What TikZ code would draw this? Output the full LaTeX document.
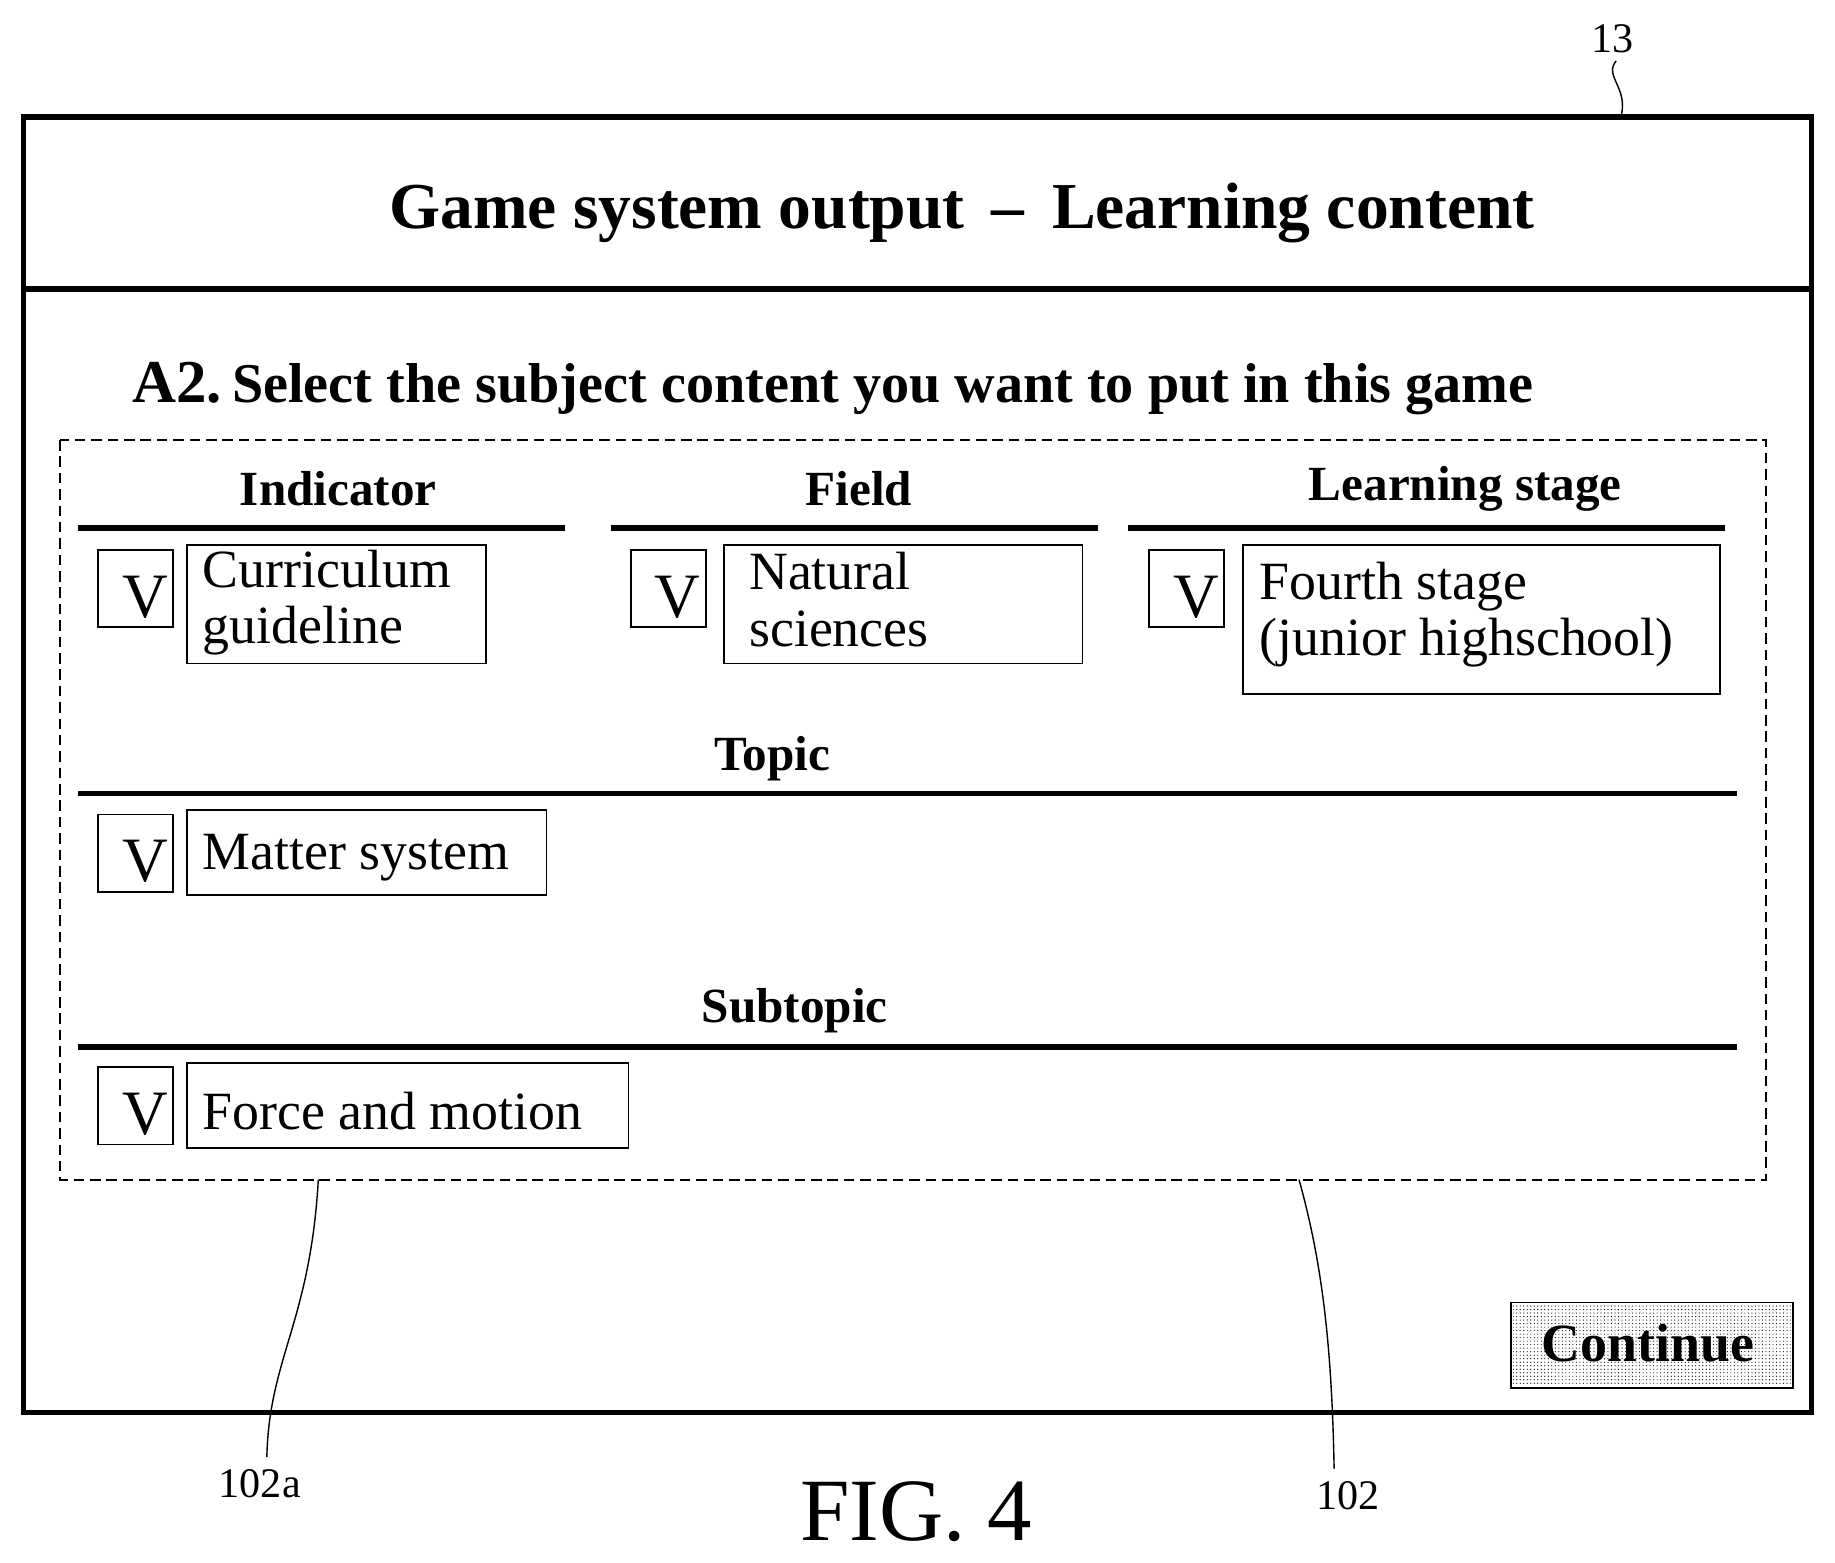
\documentclass[tikz,border=0pt]{standalone}
\usepackage{fontspec}
\setmainfont{Liberation Serif}
\usetikzlibrary{patterns}
\begin{document}
\begin{tikzpicture}[x=1pt,y=-1pt,
  hdr/.style={font=\fontsize{42}{44}\selectfont\bfseries},
  hline/.style={line width=5pt},
  vbox/.style={draw,line width=1.6pt},
  txt/.style={font=\fontsize{46}{48}\selectfont,anchor=north west,align=left,inner sep=0pt},
  lab/.style={font=\fontsize{36}{38}\selectfont}]
\useasboundingbox (0,0) rectangle (1568,1335);
\draw[line width=4.5pt] (20,100) rectangle (1548,1207);
\draw[line width=4.5pt] (20,247) -- (1548,247);
\node[font=\fontsize{56}{60}\selectfont\bfseries] (title) at (822,182) {Game system output \,–\, Learning content};
\node[anchor=west,inner sep=0pt] (a2) at (113,332) {\fontsize{52}{54}\selectfont\bfseries A2.\,\fontsize{48}{50}\selectfont Select the subject content you want to put in this game};
\draw[dash pattern=on 9pt off 5pt,line width=1.5pt] (51,376) rectangle (1509,1008);
\node[hdr] (h1) at (289,418) {Indicator};
\node[hdr] (h2) at (734,418) {Field};
\node[hdr] (h3) at (1252,418) {Learning stage};
\draw[hline] (67,451) -- (483,451);
\draw[hline] (522,451) -- (938,451);
\draw[hline] (964,451) -- (1474,451);
\node[hdr] (h4) at (660,648) {Topic};
\draw[hline] (67,678) -- (1484,678);
\node[hdr] (h5) at (679,864) {Subtopic};
\draw[hline] (67,895) -- (1484,895);
\foreach \n/\x/\y in {v1/84/470, v2/539/470, v3/982/470, v4/84/696, v5/84/912}{
  \draw[vbox] (\x,\y) rectangle ++(64,66);
  \node[font=\fontsize{54}{54}\selectfont] (\n) at (\x+40,\y+40) {V};
}
\draw[vbox] (160,466) rectangle (415,567);
\node[txt] (t1) at (173,470) {Curriculum\\[0pt]guideline};
\draw[vbox] (619,466) rectangle (925,567);
\node[txt] (t2) at (640,472) {Natural\\[0pt]sciences};
\draw[vbox] (1062,466) rectangle (1470,593);
\node[txt] (t3) at (1076,480) {Fourth stage\\[0pt](junior highschool)};
\draw[vbox] (160,692) rectangle (467,765);
\node[txt,anchor=west] (t4) at (173,733) {Matter system};
\draw[vbox] (160,908) rectangle (537,981);
\node[txt,anchor=west] (t5) at (173,949) {Force and motion};
\draw[line width=1.6pt,fill=white] (1291,1113) rectangle (1532,1186);
\fill[pattern=dots] (1293,1115) rectangle (1530,1184);
\node[font=\fontsize{46}{46}\selectfont\bfseries] (cont) at (1408,1148) {Continue};
\node[lab] (l13) at (1378,33) {13};
\draw[line width=1.2pt] (1381,52) .. controls (1370,65) and (1392,75) .. (1385,100);
\node[lab] (l102a) at (222,1268) {102a};
\draw[line width=1.2pt] (272,1008) .. controls (265,1130) and (230,1160) .. (228,1245);
\node[lab] (l102) at (1152,1278) {102};
\draw[line width=1.2pt] (1110,1008) .. controls (1130,1080) and (1138,1150) .. (1140,1255);
\node[font=\fontsize{76}{76}\selectfont] (fig) at (783,1292) {FIG. 4};
\end{tikzpicture}
\end{document}
